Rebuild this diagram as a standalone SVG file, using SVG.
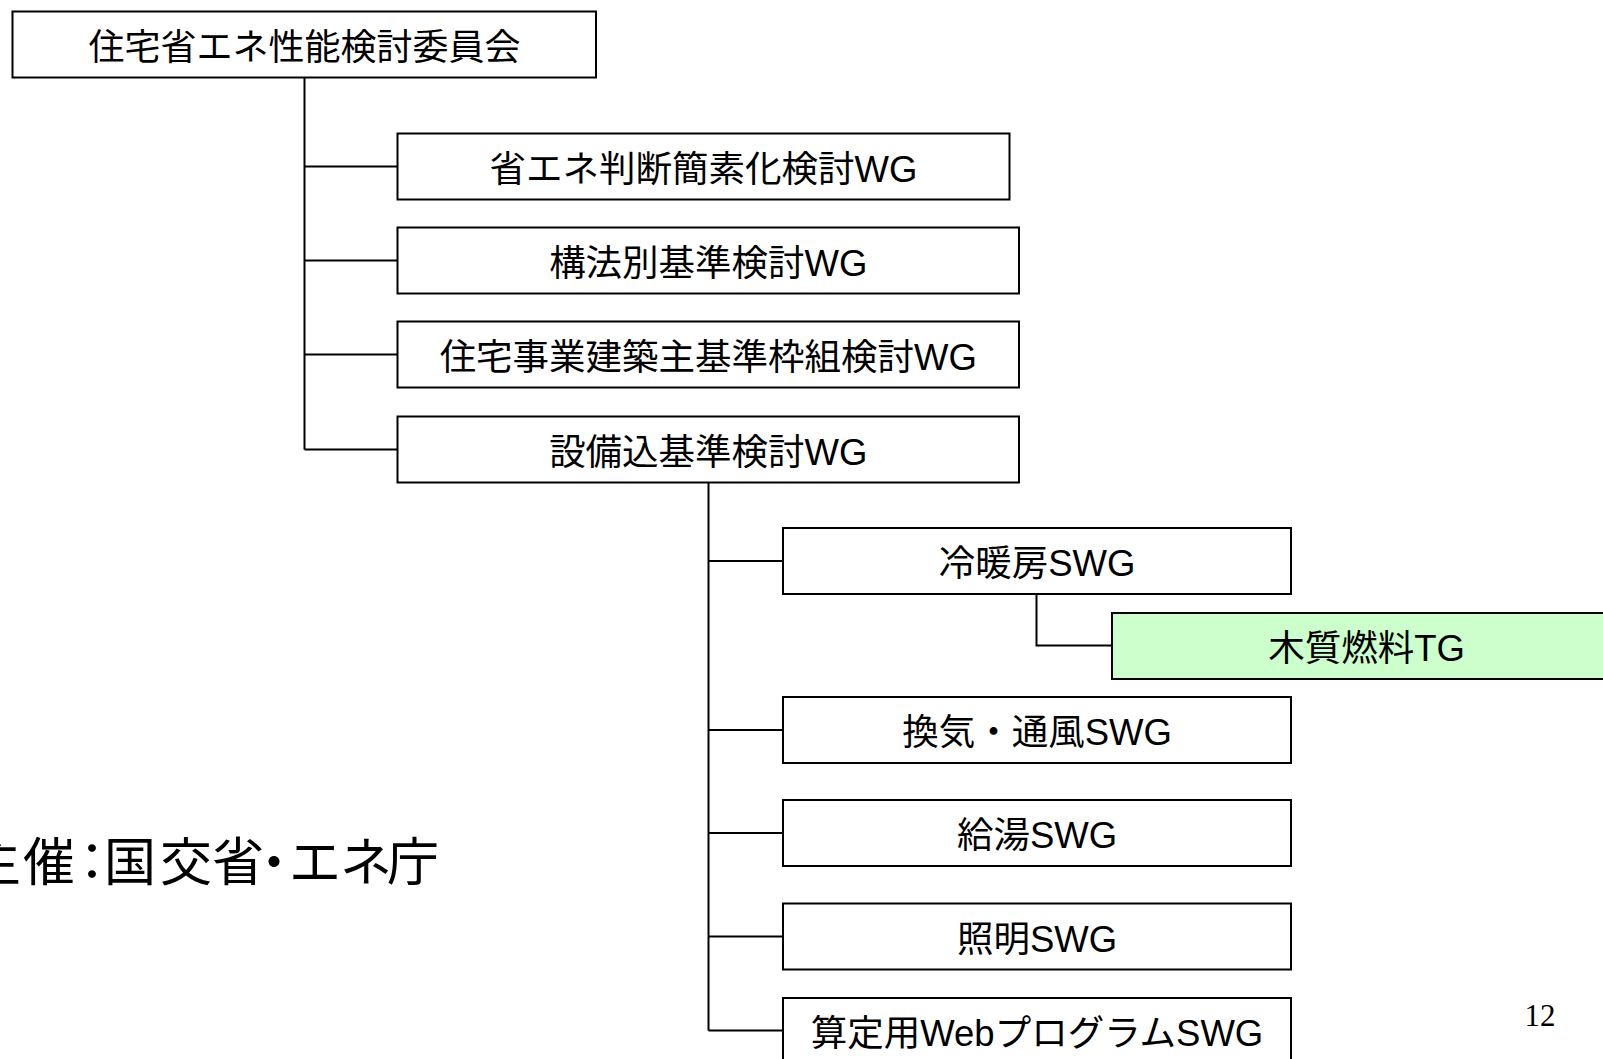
<svg xmlns="http://www.w3.org/2000/svg" width="1603" height="1059" viewBox="0 0 1603 1059">
<style>
.box{fill:#fff;stroke:#000;stroke-width:2}
.green{fill:#ccffcc;stroke:#000;stroke-width:2}
.lbl{font-family:'Liberation Sans','Noto Sans CJK JP',sans-serif;font-size:36.5px;fill:#000;text-anchor:middle}
.conn{fill:none;stroke:#000;stroke-width:2}
</style>
<rect width="1603" height="1059" fill="#fff"/>
<g id="connectors">
<path class="conn" d="M304.5 77.5 V449.5 M304.5 166.5 H397.5 M304.5 260.5 H397.5 M304.5 354.5 H397.5 M304.5 449.5 H397.5"/>
<path class="conn" d="M708.5 482.5 V1030.5 M708.5 561 H783 M708.5 730 H783 M708.5 833 H783 M708.5 936.5 H783 M708.5 1030.5 H783"/>
<path class="conn" d="M1036.5 594 V645.5 H1112"/>
</g>
<g id="n_committee">
<rect class="box" x="12.5" y="11.5" width="583.5" height="66"/>
<text class="lbl" style="font-size:36px" x="304.5" y="59.5">住宅省エネ性能検討委員会</text>
</g>
<g id="n_wg1">
<rect class="box" x="397.5" y="133.5" width="612" height="66"/>
<text class="lbl" x="703.5" y="181.5">省エネ判断簡素化検討WG</text>
</g>
<g id="n_wg2">
<rect class="box" x="397.5" y="227.5" width="621.5" height="66"/>
<text class="lbl" x="708.3" y="275.5">構法別基準検討WG</text>
</g>
<g id="n_wg3">
<rect class="box" x="397.5" y="321.5" width="621.5" height="66"/>
<text class="lbl" x="708.3" y="369.5">住宅事業建築主基準枠組検討WG</text>
</g>
<g id="n_wg4">
<rect class="box" x="397.5" y="416.5" width="621.5" height="66"/>
<text class="lbl" x="708.3" y="464.5">設備込基準検討WG</text>
</g>
<g id="n_swg1">
<rect class="box" x="783" y="528" width="508" height="66"/>
<text class="lbl" x="1037" y="576">冷暖房SWG</text>
</g>
<g id="n_tg">
<rect class="green" x="1112" y="613" width="510" height="66"/>
<text class="lbl" x="1366.5" y="661">木質燃料TG</text>
</g>
<g id="n_swg2">
<rect class="box" x="783" y="697" width="508" height="66"/>
<text class="lbl" x="1037" y="745">換気・通風SWG</text>
</g>
<g id="n_swg3">
<rect class="box" x="783" y="800" width="508" height="66"/>
<text class="lbl" x="1037" y="848">給湯SWG</text>
</g>
<g id="n_swg4">
<rect class="box" x="783" y="903.5" width="508" height="66"/>
<text class="lbl" x="1037" y="951.5">照明SWG</text>
</g>
<g id="n_swg5">
<rect class="box" x="783" y="998" width="508" height="66"/>
<text class="lbl" x="1037" y="1046">算定用WebプログラムSWG</text>
</g>
<text font-family="'Liberation Sans','Noto Sans CJK JP',sans-serif" font-size="52" fill="#000" x="-31 23 66 104 160 212 248 289 340 387" y="881">主催：国交省・エネ庁</text>
<text font-family="'Liberation Serif',serif" font-size="31" fill="#000" x="1540" y="1026" text-anchor="middle">12</text>
</svg>
